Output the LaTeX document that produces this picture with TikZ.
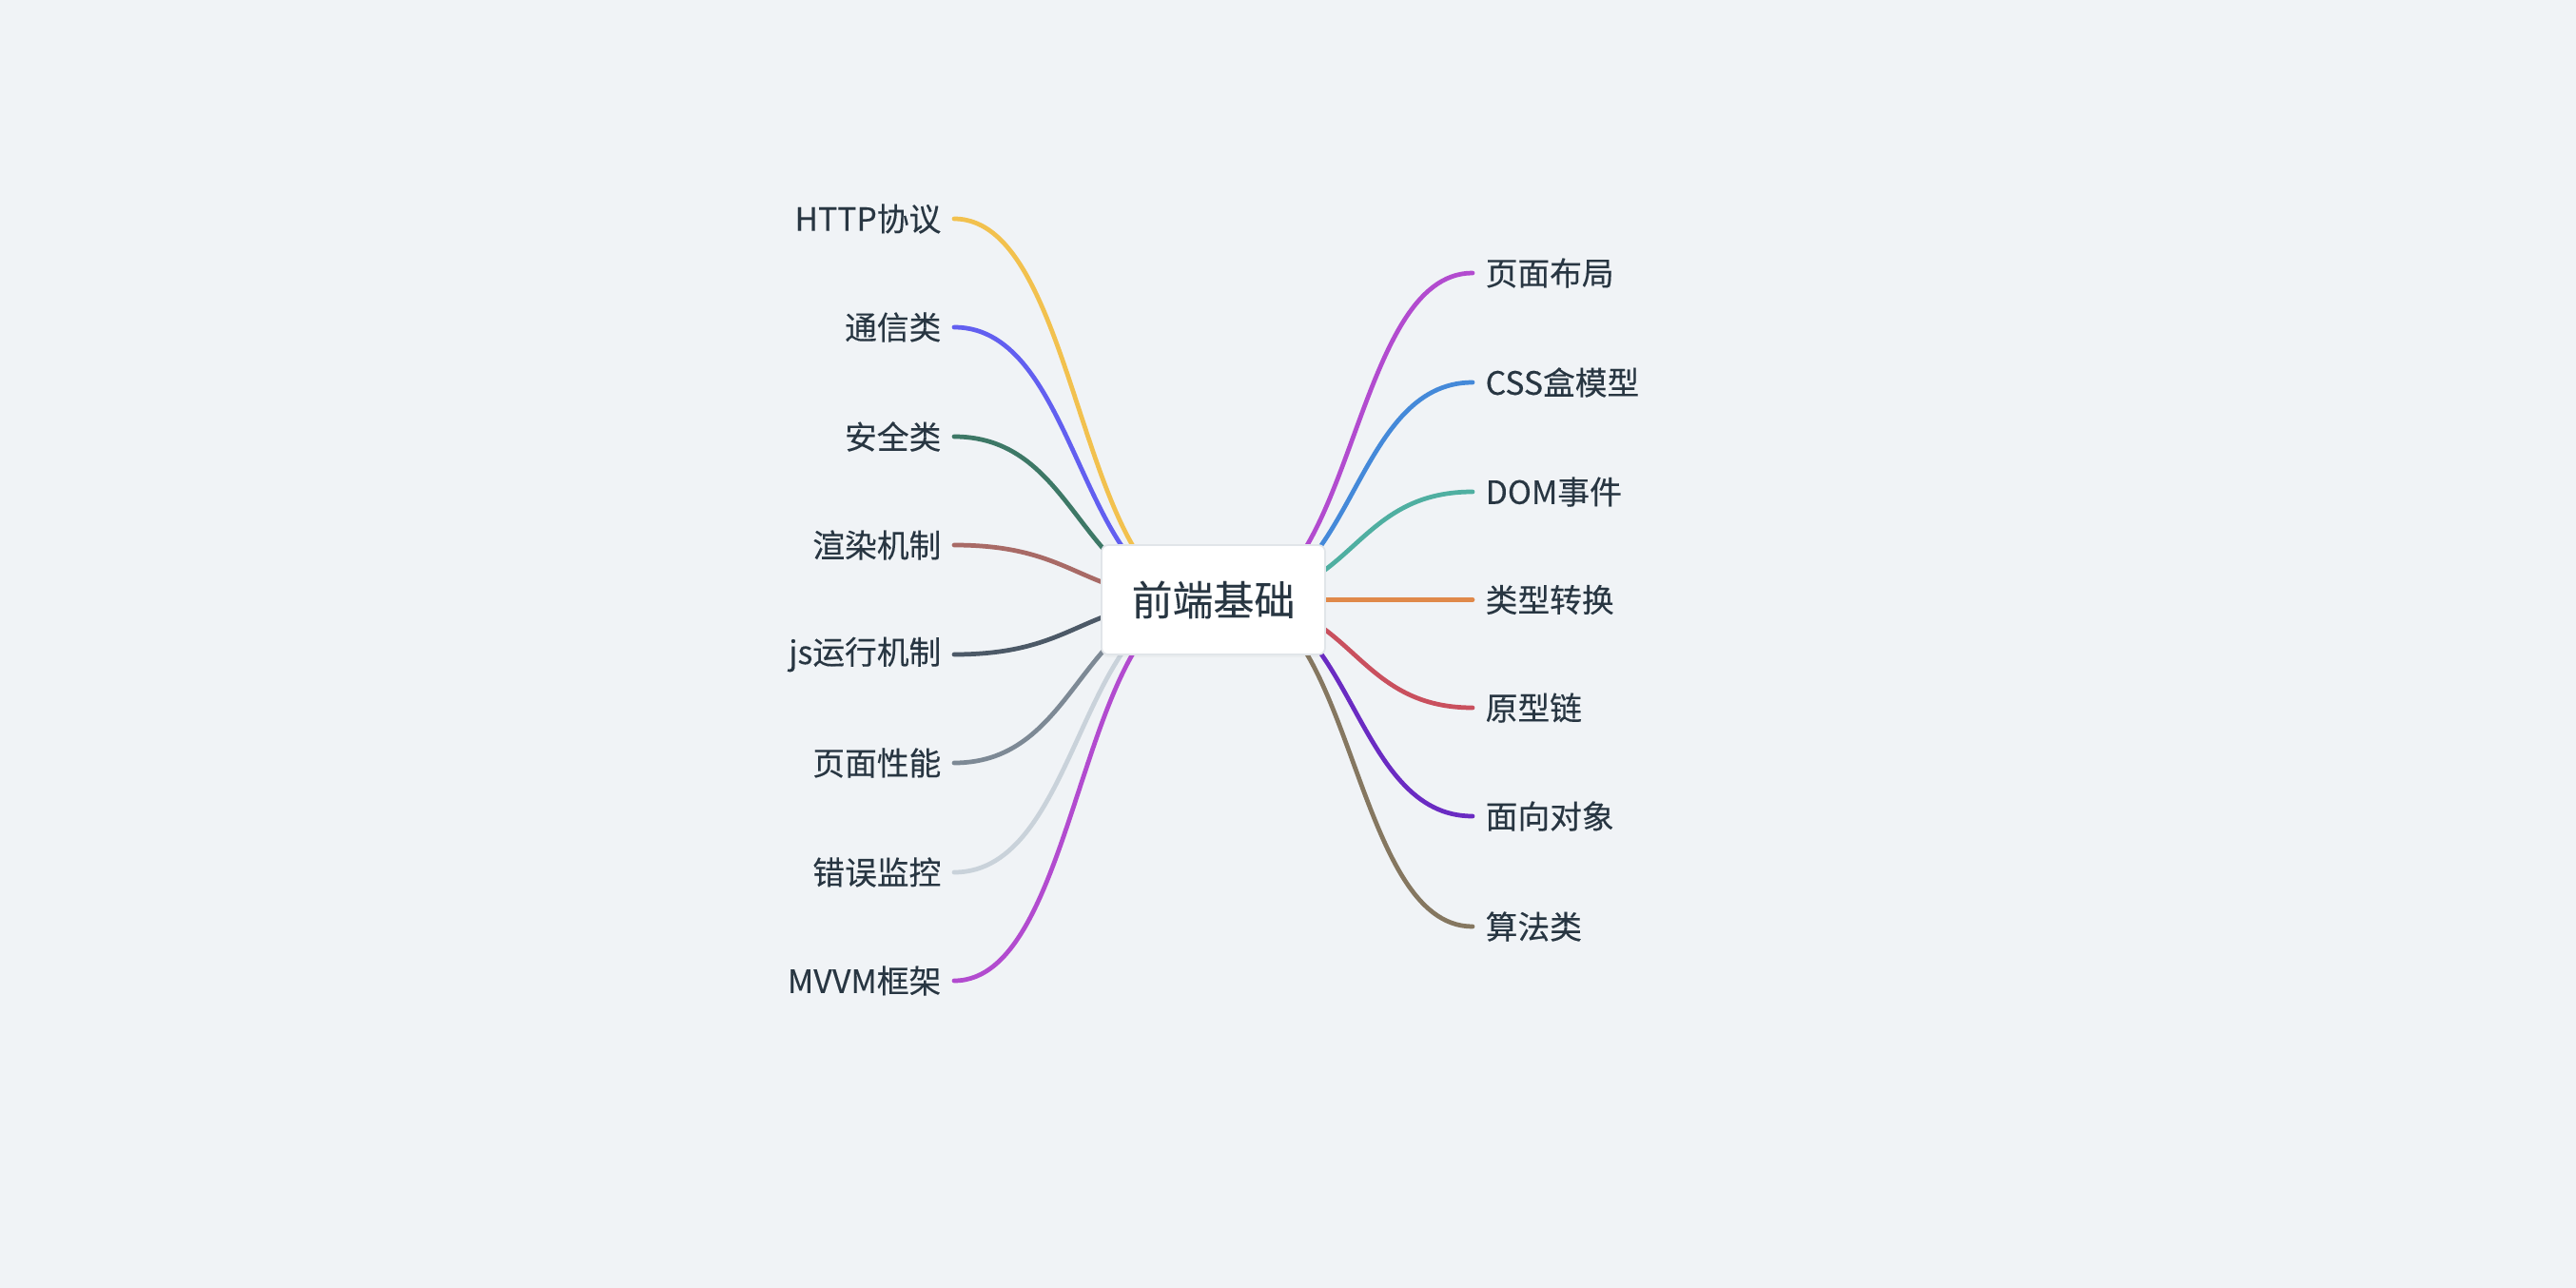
\documentclass[tikz,border=0pt]{standalone}
\usepackage{fontspec}
\setmainfont{Noto Sans CJK SC}[FakeBold=0.25]
\usepackage{xcolor}
\usepackage{tikz}
\usetikzlibrary{calc,shadows}

\definecolor{bgcol}{HTML}{F0F3F6}
\definecolor{txtcol}{HTML}{283642}
\definecolor{boxline}{HTML}{E1E5E9}
\definecolor{cyellow}{HTML}{F2C14E}
\definecolor{cviolet}{HTML}{625FF0}
\definecolor{cgreen}{HTML}{3D7866}
\definecolor{cbrown}{HTML}{A86A66}
\definecolor{cslate}{HTML}{4C5967}
\definecolor{cgray}{HTML}{7D8995}
\definecolor{clight}{HTML}{C9D2DA}
\definecolor{cpurple}{HTML}{B24BCF}
\definecolor{cblue}{HTML}{4489D9}
\definecolor{cteal}{HTML}{4FAFA1}
\definecolor{corange}{HTML}{E0894A}
\definecolor{cred}{HTML}{C9505E}
\definecolor{cindigo}{HTML}{6A2BC2}
\definecolor{colive}{HTML}{857760}

\pgfdeclarelayer{bg}
\pgfsetlayers{bg,main}

\begin{document}
\begin{tikzpicture}[every node/.style={text=txtcol},
                    topic/.style={fill=white,draw=boxline,line width=0.5pt,rounded corners=0.07cm,
                                  minimum width=2.35cm,minimum height=1.15cm,
                                  font=\fontsize{12.2}{14}\selectfont,
                                  drop shadow={shadow xshift=0pt,shadow yshift=-0.03cm,opacity=0.05}},
                    leaf/.style={inner xsep=0.13cm,inner ysep=0pt,font=\fontsize{9.6}{11}\selectfont},
                    link/.style={line width=1.35pt,line cap=round,
                                 to path={let \p1=(\tikztostart), \p2=(\tikztotarget) in
                                          .. controls ({(\x1+\x2)/2},\y1) and ({(\x1+\x2)/2},\y2) .. (\tikztotarget)}}]
            \useasboundingbox (0,0) rectangle (27.08,-13.54);

            %Nodes
                \node[topic] (0) at (12.755,-6.305) {前端基础};

                \node[leaf,anchor=east] (1) at (10.03,-2.30) {HTTP协议};
                \node[leaf,anchor=east] (2) at (10.03,-3.44) {通信类};
                \node[leaf,anchor=east] (3) at (10.03,-4.59) {安全类};
                \node[leaf,anchor=east] (4) at (10.03,-5.73) {渲染机制};
                \node[leaf,anchor=east] (5) at (10.03,-6.88) {js运行机制};
                \node[leaf,anchor=east] (6) at (10.03,-8.02) {页面性能};
                \node[leaf,anchor=east] (7) at (10.03,-9.17) {错误监控};
                \node[leaf,anchor=east] (8) at (10.03,-10.31) {MVVM框架};

                \node[leaf,anchor=west] (9) at (15.48,-2.87) {页面布局};
                \node[leaf,anchor=west] (10) at (15.48,-4.02) {CSS盒模型};
                \node[leaf,anchor=west] (11) at (15.48,-5.17) {DOM事件};
                \node[leaf,anchor=west] (12) at (15.48,-6.305) {类型转换};
                \node[leaf,anchor=west] (13) at (15.48,-7.44) {原型链};
                \node[leaf,anchor=west] (14) at (15.48,-8.58) {面向对象};
                \node[leaf,anchor=west] (15) at (15.48,-9.74) {算法类};

            %Lines
            \begin{pgfonlayer}{bg}
                \fill[bgcol] (0,0) rectangle (27.08,-13.54);

                \draw[link,cyellow] ([xshift=-0.1cm]0.center) to (1.east);
                \draw[link,cviolet] ([xshift=-0.1cm]0.center) to (2.east);
                \draw[link,cgreen] ([xshift=-0.1cm]0.center) to (3.east);
                \draw[link,cbrown] ([xshift=-0.1cm]0.center) to (4.east);
                \draw[link,cslate] ([xshift=-0.1cm]0.center) to (5.east);
                \draw[link,cgray] ([xshift=-0.1cm]0.center) to (6.east);
                \draw[link,clight] ([xshift=-0.1cm]0.center) to (7.east);
                \draw[link,cpurple] ([xshift=-0.1cm]0.center) to (8.east);

                \draw[link,cpurple] ([xshift=0.22cm]0.center) to (9.west);
                \draw[link,cblue] ([xshift=0.22cm]0.center) to (10.west);
                \draw[link,cteal] ([xshift=0.22cm]0.center) to (11.west);
                \draw[link,corange] ([xshift=0.22cm]0.center) to (12.west);
                \draw[link,cred] ([xshift=0.22cm]0.center) to (13.west);
                \draw[link,cindigo] ([xshift=0.22cm]0.center) to (14.west);
                \draw[link,colive] ([xshift=0.22cm]0.center) to (15.west);
            \end{pgfonlayer}
\end{tikzpicture}
\end{document}
